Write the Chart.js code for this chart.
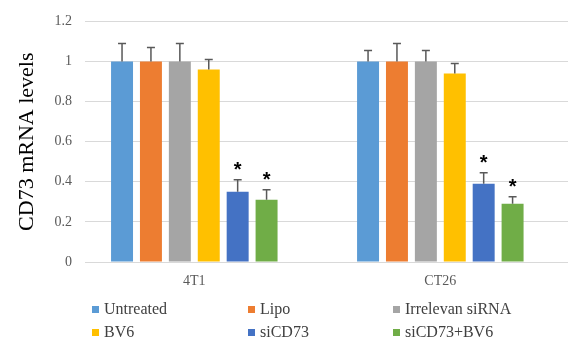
<!DOCTYPE html>
<html>
<head>
<meta charset="utf-8">
<script src="https://cdn.jsdelivr.net/npm/chart.js@4/dist/chart.umd.min.js"></script>
<style>
  html, body { margin: 0; padding: 0; background: #fff; }
  #wrap { position: relative; width: 568px; height: 338px; }
  #legend { position: absolute; left: 0; top: 0; width: 568px; height: 338px; pointer-events: none;
            font-family: "Liberation Serif", "Times New Roman", serif; font-size: 16px; color: #404040; }
  .item { position: absolute; display: flex; align-items: center; white-space: nowrap; line-height: 16px; }
  .sw { width: 7px; height: 7px; margin-right: 5px; }
</style>
</head>
<body>
<div id="wrap">
  <canvas id="c" width="568" height="338"></canvas>
  <div id="legend"></div>
</div>
<script>
const categories = ['4T1', 'CT26'];
const seriesNames = ['Untreated', 'Lipo', 'Irrelevan siRNA', 'BV6', 'siCD73', 'siCD73+BV6'];
const untreated = [1.00, 1.00];
const lipo = [1.00, 1.00];
const irrelevant = [1.00, 1.00];
const bv6 = [0.96, 0.94];
const siCD73 = [0.35, 0.39];
const siCD73BV6 = [0.31, 0.29];
const errUntreated = [0.09, 0.055];
const errLipo = [0.07, 0.09];
const errIrrelevant = [0.09, 0.055];
const errBv6 = [0.05, 0.05];
const errSiCD73 = [0.06, 0.055];
const errSiCD73BV6 = [0.05, 0.035];
const sigUntreated = [false, false];
const sigLipo = [false, false];
const sigIrrelevant = [false, false];
const sigBv6 = [false, false];
const sigSiCD73 = [true, true];
const sigSiCD73BV6 = [true, true];
const yTicks = [0, 0.2, 0.4, 0.6, 0.8, 1, 1.2];
const yTickLabels = ['0', '0.2', '0.4', '0.6', '0.8', '1', '1.2'];
const colors = ['#5B9BD5', '#ED7D31', '#A5A5A5', '#FFC000', '#4472C4', '#70AD47'];

const values = [untreated, lipo, irrelevant, bv6, siCD73, siCD73BV6];
const errors = [errUntreated, errLipo, errIrrelevant, errBv6, errSiCD73, errSiCD73BV6];
const sigs = [sigUntreated, sigLipo, sigIrrelevant, sigBv6, sigSiCD73, sigSiCD73BV6];

const datasets = seriesNames.map((name, s) => ({
  label: name,
  data: values[s].map((v, i) => ({ x: i, y: v })),
  backgroundColor: colors[s],
  borderWidth: 0,
  categoryPercentage: 0.705,
  barPercentage: 0.76,
  errs: errors[s],
  sig: sigs[s]
}));

const errorBars = {
  id: 'errorBars',
  afterDatasetsDraw(chart) {
    const ctx = chart.ctx;
    const yScale = chart.scales.y;
    ctx.save();
    chart.data.datasets.forEach((ds, s) => {
      const meta = chart.getDatasetMeta(s);
      meta.data.forEach((bar, i) => {
        const v = ds.data[i].y;
        const top = yScale.getPixelForValue(v + ds.errs[i]);
        ctx.strokeStyle = '#595959';
        ctx.lineWidth = 1.5;
        ctx.beginPath();
        ctx.moveTo(bar.x, bar.y);
        ctx.lineTo(bar.x, top);
        ctx.moveTo(bar.x - 4, top);
        ctx.lineTo(bar.x + 4, top);
        ctx.stroke();
        if (ds.sig[i]) {
          ctx.fillStyle = '#000';
          ctx.font = 'bold 20px "Liberation Sans", Arial, sans-serif';
          ctx.textAlign = 'center';
          ctx.textBaseline = 'middle';
          ctx.fillText('*', bar.x, top - 9);
        }
      });
    });
    ctx.restore();
  }
};

const chart = new Chart(document.getElementById('c'), {
  type: 'bar',
  data: { datasets },
  options: {
    responsive: false,
    animation: false,
    devicePixelRatio: 1,
    layout: { padding: { top: 21, right: 0, bottom: 0, left: 0 } },
    plugins: { legend: { display: false }, tooltip: { enabled: false } },
    scales: {
      x: {
        type: 'linear',
        min: -0.4443,
        max: 1.519,
        offset: false,
        grid: { display: false, drawTicks: false },
        border: { display: true, color: '#d9d9d9', width: 1 },
        afterBuildTicks(scale) { scale.ticks = categories.map((c, i) => ({ value: i })); },
        afterFit(scale) { scale.height = 76; },
        ticks: {
          padding: 11,
          maxRotation: 0,
          autoSkip: false,
          color: '#595959',
          font: { family: '"Liberation Serif", "Times New Roman", serif', size: 14 },
          callback: (v) => categories[v] ?? ''
        }
      },
      y: {
        min: 0,
        max: 1.2,
        afterBuildTicks(scale) { scale.ticks = yTicks.map(v => ({ value: v })); },
        afterFit(scale) { scale.width = 85; },
        grid: { color: '#d9d9d9', lineWidth: 1, drawTicks: false },
        border: { display: false },
        ticks: {
          padding: 13,
          color: '#595959',
          font: { family: '"Liberation Serif", "Times New Roman", serif', size: 14 },
          callback: (v, i) => yTickLabels[i]
        },
        title: {
          display: true,
          text: 'CD73 mRNA levels',
          color: '#000',
          padding: { top: 14, bottom: 0 },
          font: { family: '"Liberation Serif", "Times New Roman", serif', size: 22 }
        }
      }
    }
  },
  plugins: [errorBars]
});

// HTML legend generated from chart datasets, 3 columns x 2 rows
const legendCols = [92, 248, 393];
const legendRows = [309, 332];
const legend = document.getElementById('legend');
chart.data.datasets.forEach((ds, s) => {
  const el = document.createElement('div');
  el.className = 'item';
  el.style.left = legendCols[s % 3] + 'px';
  el.style.top = (legendRows[Math.floor(s / 3)] - 8) + 'px';
  const sw = document.createElement('span');
  sw.className = 'sw';
  sw.style.background = ds.backgroundColor;
  const tx = document.createElement('span');
  tx.textContent = ds.label;
  el.appendChild(sw);
  el.appendChild(tx);
  legend.appendChild(el);
});
</script>
</body>
</html>
